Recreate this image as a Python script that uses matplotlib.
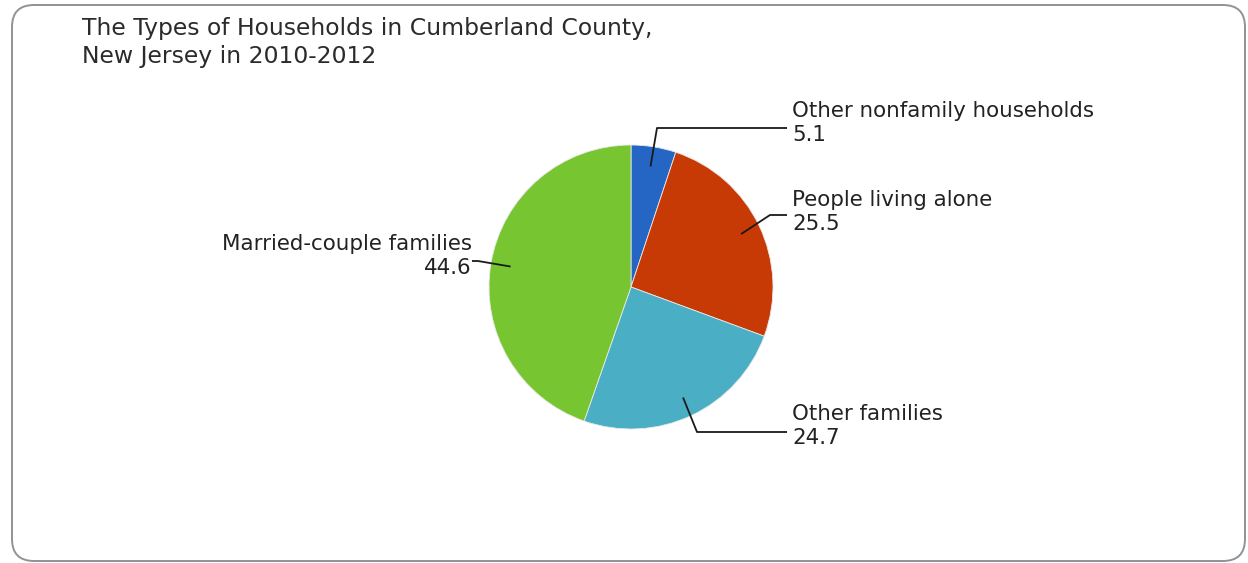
import numpy as np
import matplotlib
matplotlib.use("Agg")
import matplotlib.pyplot as plt
from matplotlib.patches import FancyBboxPatch

categories = ["Other nonfamily households", "People living alone",
              "Other families", "Married-couple families"]
values = [5.1, 25.5, 24.7, 44.6]
colors = ["#2565c4", "#c83a05", "#4aafc4", "#77c531"]
title_lines = ["The Types of Households in Cumberland County,", "New Jersey in 2010-2012"]

W, H = 1248, 563
fig = plt.figure(figsize=(W / 100, H / 100), dpi=100)
ax = fig.add_axes([0, 0, 1, 1])

# rounded frame around the whole chart
frame = FancyBboxPatch((12, 2), 1233, 556, boxstyle="round,pad=0,rounding_size=22",
                       facecolor="white", edgecolor="#8e9398", linewidth=1.4)
ax.add_patch(frame)

cx, cy, R = 631, 276, 142
wedges, _ = ax.pie(values, colors=colors, startangle=90, counterclock=False,
                   center=(cx, cy), radius=R, frame=True,
                   wedgeprops=dict(edgecolor="#e8e8e8", linewidth=0.6))
ax.set_xlim(0, W)
ax.set_ylim(0, H)
ax.set_aspect("equal")
ax.axis("off")

for i, line in enumerate(title_lines):
    ax.text(82, H - 35 - 28 * i, line, fontsize=16.9, color="#2b2b2b",
            ha="left", va="baseline")

# label layout: (elbow point, end of horizontal line, text x, text align, name centre y)
layout = [
    ((657, H - 128), (787, H - 128), 792, "left", H - 111),
    ((770, H - 215), (787, H - 215), 792, "left", H - 200),
    ((697, H - 432), (787, H - 432), 792, "left", H - 414),
    ((478, H - 261), (472, H - 261), 472, "right", H - 244),
]

for w, name, val, (elbow, end, tx, ha, ty) in zip(wedges, categories, values, layout):
    mid = np.deg2rad((w.theta1 + w.theta2) / 2)
    px = cx + 0.86 * R * np.cos(mid)
    py = cy + 0.86 * R * np.sin(mid)
    ax.plot([px, elbow[0], end[0]], [py, elbow[1], end[1]], color="#1a1a1a",
            linewidth=1.3, solid_capstyle="butt", zorder=5)
    ax.text(tx, ty, name, fontsize=15.4, color="#222222", ha=ha, va="center")
    ax.text(tx, ty - 24, f"{val}", fontsize=15.4, color="#222222", ha=ha, va="center")

fig.savefig("out.png", dpi=100, facecolor="white")
